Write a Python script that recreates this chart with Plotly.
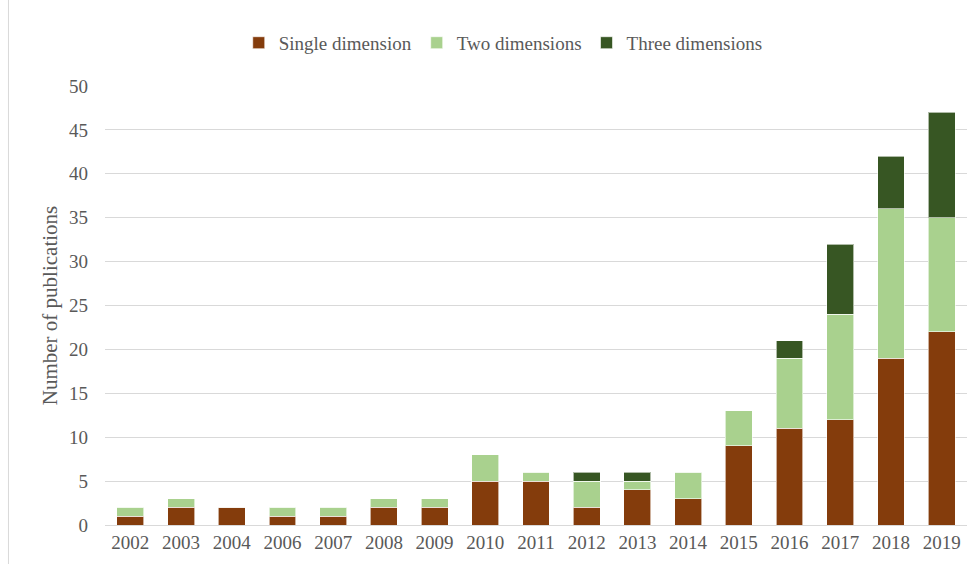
import plotly.graph_objects as go

years = ["2002", "2003", "2004", "2006", "2007", "2008", "2009", "2010", "2011",
         "2012", "2013", "2014", "2015", "2016", "2017", "2018", "2019"]
single_dim = [1, 2, 2, 1, 1, 2, 2, 5, 5, 2, 4, 3, 9, 11, 12, 19, 22]
two_dim = [1, 1, 0, 1, 1, 1, 1, 3, 1, 3, 1, 3, 4, 8, 12, 17, 13]
three_dim = [0, 0, 0, 0, 0, 0, 0, 0, 0, 1, 1, 0, 0, 2, 8, 6, 12]
y_ticks = [0, 5, 10, 15, 20, 25, 30, 35, 40, 45, 50]

FONT = "Liberation Serif"
TXT = "#595959"
line = dict(color="rgba(255,255,255,0.6)", width=1)

fig = go.Figure()
fig.add_trace(go.Bar(x=years, y=single_dim, name="Single dimension",
                     marker=dict(color="#843C0C", line=line)))
fig.add_trace(go.Bar(x=years, y=two_dim, name="Two dimensions",
                     marker=dict(color="#A9D18E", line=line)))
fig.add_trace(go.Bar(x=years, y=three_dim, name="Three dimensions",
                     marker=dict(color="#375623", line=line)))

fig.update_layout(
    barmode="stack",
    bargap=0.47,
    width=978, height=564,
    margin=dict(l=105, r=11, t=86, b=39),
    paper_bgcolor="white", plot_bgcolor="white",
    font=dict(family=FONT, size=19, color=TXT),
    legend=dict(orientation="h", x=0.462, xanchor="center", y=0.924, yanchor="middle",
                yref="container", font=dict(family=FONT, size=19, color=TXT),
                traceorder="normal", itemwidth=30, bgcolor="rgba(0,0,0,0)"),
    xaxis=dict(type="category", showgrid=False, showline=True, linecolor="#D9D9D9",
               linewidth=1, ticks="", tickfont=dict(family=FONT, size=19, color=TXT)),
    yaxis=dict(range=[0, 50], tickvals=y_ticks, showgrid=True, gridcolor="#D9D9D9",
               gridwidth=1, zeroline=False, showline=False, ticks="",
               tickfont=dict(family=FONT, size=19, color=TXT), ticklabelstandoff=16,
               title=dict(text="Number of publications", font=dict(family=FONT, size=21, color=TXT),
                          standoff=5)),
)
fig.add_shape(type="rect", xref="paper", yref="paper", x0=-0.112, x1=1.015, y0=-0.12, y1=1.22,
              line=dict(color="#D9D9D9", width=1), layer="below")
fig.write_html("out.html")
